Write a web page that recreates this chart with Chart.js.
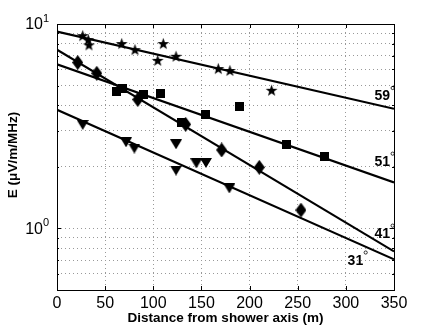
<!DOCTYPE html>
<html>
<head>
<meta charset="utf-8">
<script src="https://cdn.jsdelivr.net/npm/chart.js@4/dist/chart.umd.min.js"></script>
<style>
  html, body { margin: 0; padding: 0; background: #fff; }
  #wrap { width: 436px; height: 327px; }
</style>
</head>
<body>
<div id="wrap"><canvas id="chart" width="436" height="327"></canvas></div>
<script>
// measured points, one array per zenith angle
const distStar = [26.7, 32.5, 33.2, 67.2, 81.0, 104.6, 110.4, 123.6, 167.5, 179.6, 222.9];
const eStar = [8.77, 8.38, 7.90, 8.02, 7.49, 6.64, 8.02, 6.95, 6.05, 5.92, 4.74];

const distSquare = [61.8, 68.4, 89.6, 107.3, 129.3, 153.9, 189.7, 238.6, 278.3];
const eSquare = [4.67, 4.82, 4.52, 4.57, 3.29, 3.62, 3.95, 2.56, 2.26];

const distDiamond = [21.5, 41.3, 83.9, 133.6, 171.0, 210.1, 253.4];
const eDiamond = [6.48, 5.74, 4.27, 3.23, 2.42, 1.99, 1.23];

const distTriangle = [26.7, 71.7, 80.3, 123.6, 123.6, 144.7, 154.7, 179.0];
const eTriangle = [3.21, 2.64, 2.46, 2.58, 1.92, 2.08, 2.09, 1.57];

// exponential fits (end points)
const fitX = [0, 350];
const fit59 = [9.17, 3.85];
const fit51 = [6.35, 1.68];
const fit41 = [7.49, 0.772];
const fit31 = [3.81, 0.706];

// angle labels and where they sit (x = right edge, y = value)
const angleLabels = ['59', '51', '41', '31'];
const angleLabelX = [346, 346, 346, 318];
const angleLabelY = [4.42, 2.11, 0.938, 0.693];

const xTicks = [0, 50, 100, 150, 200, 250, 300, 350];
const yTicks = [0.5, 0.6, 0.7, 0.8, 0.9, 1, 2, 3, 4, 5, 6, 7, 8, 9, 10];

const FONT = '"Liberation Sans", Arial, Helvetica, sans-serif';

function toPoints(xs, ys) {
    return xs.map((x, i) => ({ x: x, y: ys[i] }));
}

// little canvases used as point styles
function makeMarker(w, h, draw) {
    const c = document.createElement('canvas');
    c.width = w;
    c.height = h;
    const g = c.getContext('2d');
    g.fillStyle = '#000';
    g.beginPath();
    draw(g, w, h);
    g.closePath();
    g.fill();
    return c;
}

const starImg = makeMarker(13, 13, (g, w, h) => {
    const cx = w / 2, cy = h / 2 + 0.5, ro = 6.2, ri = 2.5;
    for (let i = 0; i < 10; i++) {
        const r = i % 2 === 0 ? ro : ri;
        const a = -Math.PI / 2 + i * Math.PI / 5;
        const px = cx + r * Math.cos(a), py = cy + r * Math.sin(a);
        if (i === 0) g.moveTo(px, py); else g.lineTo(px, py);
    }
});
const squareImg = makeMarker(9, 9, (g, w, h) => {
    g.rect(0, 0, w, h);
});
const diamondImg = makeMarker(11, 15, (g, w, h) => {
    g.moveTo(w / 2, 0);
    g.lineTo(w, h / 2);
    g.lineTo(w / 2, h);
    g.lineTo(0, h / 2);
});
const triangleImg = makeMarker(12, 10, (g, w, h) => {
    g.moveTo(0, 0);
    g.lineTo(w, 0);
    g.lineTo(w / 2, h);
});

function fitLine(ys) {
    return {
        data: toPoints(fitX, ys),
        showLine: true,
        borderColor: '#000',
        borderWidth: 2.2,
        pointRadius: 0,
        fill: false
    };
}

function markers(xs, ys, img) {
    return {
        data: toPoints(xs, ys),
        showLine: false,
        pointStyle: img,
        pointRadius: 6
    };
}

// frame, inner ticks, log tick labels, y title and angle labels
const decorPlugin = {
    id: 'decor',
    afterDraw(chart) {
        const ctx = chart.ctx;
        const a = chart.chartArea;
        const xs = chart.scales.x, ys = chart.scales.y;
        ctx.save();

        ctx.strokeStyle = '#000';
        ctx.lineWidth = 1;
        ctx.beginPath();
        xTicks.forEach(v => {
            const px = Math.round(xs.getPixelForValue(v)) + 0.5;
            ctx.moveTo(px, a.top); ctx.lineTo(px, a.top + 4);
            ctx.moveTo(px, a.bottom); ctx.lineTo(px, a.bottom - 4);
        });
        yTicks.forEach(v => {
            const py = Math.round(ys.getPixelForValue(v)) + 0.5;
            const len = (v === 1 || v === 10) ? 4 : 2;
            ctx.moveTo(a.left, py); ctx.lineTo(a.left + len, py);
            ctx.moveTo(a.right, py); ctx.lineTo(a.right - len, py);
        });
        ctx.stroke();
        ctx.strokeRect(Math.round(a.left) + 0.5, Math.round(a.top) + 0.5,
            Math.round(a.right - a.left), Math.round(a.bottom - a.top));

        // 10^0 and 10^1
        ctx.fillStyle = '#000';
        [[1, '0'], [10, '1']].forEach(([v, p]) => {
            const py = ys.getPixelForValue(v);
            ctx.font = '16px ' + FONT;
            ctx.textAlign = 'right';
            ctx.textBaseline = 'middle';
            ctx.fillText('10', a.left - 14, py + 1);
            ctx.font = '11px ' + FONT;
            ctx.textAlign = 'left';
            ctx.fillText(p, a.left - 14, py - 5);
        });

        // y title
        ctx.save();
        ctx.translate(13, (a.top + a.bottom) / 2 - 2);
        ctx.rotate(-Math.PI / 2);
        ctx.font = 'bold 13.5px ' + FONT;
        ctx.textAlign = 'center';
        ctx.textBaseline = 'middle';
        ctx.fillText('E (\u03bcV/m/MHz)', 0, 0);
        ctx.restore();

        // angle labels with small degree rings
        angleLabels.forEach((t, i) => {
            const px = xs.getPixelForValue(angleLabelX[i]);
            const py = ys.getPixelForValue(angleLabelY[i]);
            ctx.font = 'bold 14px ' + FONT;
            ctx.textAlign = 'right';
            ctx.textBaseline = 'middle';
            ctx.fillText(t, px, py);
            ctx.lineWidth = 0.8;
            ctx.beginPath();
            ctx.arc(px + 2.5, py - 8.5, 1.6, 0, Math.PI * 2);
            ctx.stroke();
        });
        ctx.restore();
    }
};

const ctx = document.getElementById('chart').getContext('2d');
new Chart(ctx, {
    type: 'scatter',
    data: {
        datasets: [
            fitLine(fit59),
            fitLine(fit51),
            fitLine(fit41),
            fitLine(fit31),
            markers(distStar, eStar, starImg),
            markers(distSquare, eSquare, squareImg),
            markers(distDiamond, eDiamond, diamondImg),
            markers(distTriangle, eTriangle, triangleImg)
        ]
    },
    options: {
        responsive: false,
        animation: false,
        layout: { padding: { top: 24, right: 42, left: 0, bottom: 0 } },
        plugins: {
            legend: { display: false },
            tooltip: { enabled: false }
        },
        scales: {
            x: {
                type: 'linear',
                min: 0,
                max: 350,
                afterBuildTicks: (scale) => { scale.ticks = xTicks.map(v => ({ value: v })); },
                afterFit: (scale) => { scale.height = 37; },
                grid: { color: '#999', drawTicks: false, lineWidth: 1 },
                border: { display: false, dash: [1, 3] },
                ticks: {
                    color: '#000',
                    padding: 4,
                    maxRotation: 0,
                    font: { family: FONT, size: 16 }
                },
                title: {
                    display: true,
                    text: 'Distance from shower axis (m)',
                    color: '#000',
                    padding: { top: 0, bottom: 1 },
                    font: { family: FONT, size: 13.5, weight: 'bold' }
                }
            },
            y: {
                type: 'logarithmic',
                min: 0.5,
                max: 10,
                afterBuildTicks: (scale) => { scale.ticks = yTicks.map(v => ({ value: v })); },
                afterFit: (scale) => { scale.width = 57; },
                grid: { color: '#999', drawTicks: false, lineWidth: 1 },
                border: { display: false, dash: [1, 3] },
                ticks: { display: false }
            }
        }
    },
    plugins: [decorPlugin]
});
</script>
</body>
</html>
